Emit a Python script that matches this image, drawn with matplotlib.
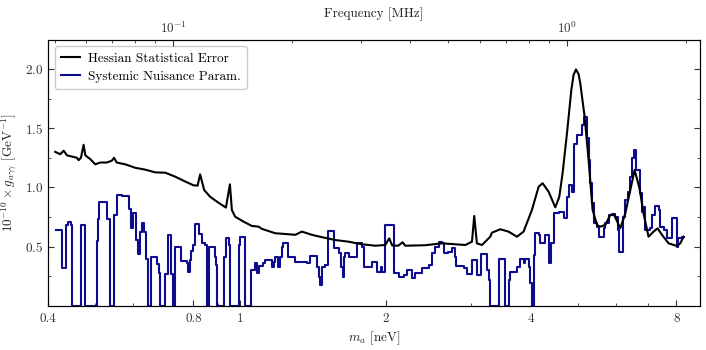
import numpy as np
import matplotlib
matplotlib.use("Agg")
import matplotlib.pyplot as plt
from matplotlib.ticker import FixedLocator, FixedFormatter, LogLocator, NullFormatter, MultipleLocator

# Computer Modern look
plt.rcParams['font.family'] = 'serif'
plt.rcParams['font.serif'] = ['cmr10']
plt.rcParams['mathtext.fontset'] = 'cm'
plt.rcParams['axes.formatter.use_mathtext'] = True
plt.rcParams['font.size'] = 9

# Hessian statistical error (black curve), axion mass in neV
hess_m = [0.414, 0.424, 0.431, 0.438, 0.449, 0.459, 0.463, 0.468, 0.474, 0.478,
          0.489, 0.501, 0.513, 0.529, 0.542, 0.548, 0.555, 0.578, 0.606, 0.636,
          0.667, 0.700, 0.734, 0.769, 0.800, 0.816, 0.826, 0.842, 0.867, 0.902,
          0.934, 0.952, 0.961, 0.976, 1.016, 1.057, 1.091, 1.109, 1.154, 1.182,
          1.239, 1.300, 1.342, 1.407, 1.476, 1.573, 1.676, 1.786, 1.904, 1.996,
          2.034, 2.064, 2.124, 2.168, 2.196, 2.415, 2.616, 2.924, 3.018, 3.051,
          3.090, 3.166, 3.293, 3.320, 3.454, 3.593, 3.740, 3.860, 4.017, 4.147,
          4.227, 4.349, 4.490, 4.576, 4.649, 4.747, 4.846, 4.898, 4.955, 5.017,
          5.058, 5.164, 5.263, 5.364, 5.477, 5.564, 5.698, 5.835, 5.946, 6.120,
          6.268, 6.420, 6.553, 6.710, 6.839, 7.003, 7.172, 7.311, 7.466, 7.705,
          8.019, 8.147, 8.277]
hess_g = [1.30, 1.28, 1.31, 1.27, 1.26, 1.25, 1.23, 1.25, 1.36, 1.27,
          1.24, 1.195, 1.21, 1.21, 1.225, 1.25, 1.21, 1.195, 1.166, 1.15,
          1.127, 1.124, 1.09, 1.05, 1.018, 1.015, 1.11, 0.978, 0.92, 0.87,
          0.83, 1.026, 0.81, 0.753, 0.711, 0.675, 0.669, 0.65, 0.627, 0.613,
          0.607, 0.60, 0.627, 0.60, 0.58, 0.556, 0.542, 0.52, 0.508, 0.514,
          0.57, 0.51, 0.508, 0.537, 0.508, 0.512, 0.528, 0.514, 0.542, 0.759,
          0.528, 0.514, 0.584, 0.618, 0.647, 0.627, 0.584, 0.627, 0.81, 1.006,
          1.035, 0.964, 0.832, 0.92, 1.12, 1.456, 1.82, 1.948, 1.996, 1.956,
          1.878, 1.596, 1.23, 0.81, 0.683, 0.669, 0.683, 0.767, 0.767, 0.655,
          0.78, 0.978, 1.147, 0.99, 0.78, 0.584, 0.627, 0.655, 0.60, 0.528,
          0.506, 0.528, 0.584]

# Systemic nuisance parameter (blue step curve), bin start in neV
nuis_m = [0.415, 0.4286, 0.4356, 0.441, 0.4457, 0.4478, 0.4686, 0.478, 0.5051, 0.5075,
          0.5106, 0.5297, 0.5369, 0.5466, 0.5555, 0.5698, 0.5871, 0.5947, 0.5984, 0.6092,
          0.6142, 0.6188, 0.6259, 0.6329, 0.6379, 0.6440, 0.6541, 0.6733, 0.6797, 0.683,
          0.700, 0.7084, 0.7187, 0.7242, 0.734, 0.7547, 0.7754, 0.7791, 0.7852, 0.7917,
          0.7980, 0.807, 0.8235, 0.8331, 0.846, 0.8533, 0.8598, 0.8846, 0.8918, 0.8950,
          0.9235, 0.9354, 0.9458, 0.953, 0.992, 1.0, 1.024, 1.054, 1.071, 1.083,
          1.091, 1.117, 1.127, 1.163, 1.166, 1.172, 1.182, 1.200, 1.210, 1.223,
          1.229, 1.255, 1.300, 1.374, 1.396, 1.441, 1.453, 1.464, 1.476, 1.500,
          1.516, 1.523, 1.565, 1.598, 1.619, 1.629, 1.637, 1.650, 1.676, 1.744,
          1.786, 1.800, 1.873, 1.919, 1.954, 1.968, 1.996, 2.077, 2.127, 2.179,
          2.214, 2.268, 2.303, 2.378, 2.454, 2.494, 2.533, 2.574, 2.616, 2.636,
          2.692, 2.744, 2.778, 2.801, 2.900, 2.947, 3.018, 3.090, 3.155, 3.242,
          3.267, 3.293, 3.437, 3.525, 3.593, 3.622, 3.740, 3.800, 3.860, 3.892,
          3.954, 3.985, 4.017, 4.052, 4.067, 4.147, 4.180, 4.266, 4.363, 4.405,
          4.454, 4.560, 4.671, 4.747, 4.783, 4.861, 4.899, 4.979, 5.100, 5.139,
          5.223, 5.263, 5.305, 5.349, 5.390, 5.477, 5.519, 5.652, 5.698, 5.789,
          5.884, 5.975, 6.042, 6.071, 6.188, 6.268, 6.338, 6.398, 6.471, 6.521,
          6.597, 6.710, 6.788, 6.862, 6.895, 7.062, 7.119, 7.231, 7.346, 7.406,
          7.523, 7.645, 7.830, 8.019, 8.058, 8.214, 8.306]
nuis_g = [0.64, 0.32, 0.68, 0.705, 0.68, 0, 0.685, 0, 0.55, 0.73,
          0.88, 0.73, 0, 0.77, 0.94, 0.93, 0.82, 0.655, 0.787, 0.556,
          0.44, 0.627, 0.70, 0.627, 0.40, 0, 0.415, 0.35, 0.276, 0,
          0.27, 0.60, 0.27, 0, 0.495, 0.38, 0.36, 0.29, 0.39, 0.46,
          0.515, 0.69, 0.61, 0.53, 0.515, 0, 0.495, 0.415, 0.345, 0,
          0.415, 0.575, 0.515, 0, 0.515, 0.584, 0, 0.30, 0.36, 0.28,
          0.337, 0.365, 0.388, 0.374, 0.33, 0.374, 0.415, 0.33, 0.415, 0.50,
          0.528, 0.415, 0.374, 0.36, 0.42, 0.33, 0.247, 0.177, 0.33, 0.346,
          0.515, 0.635, 0.486, 0.444, 0.33, 0.247, 0.415, 0.444, 0.415, 0.534,
          0.50, 0.33, 0.374, 0.29, 0.33, 0.29, 0.683, 0.275, 0.247, 0.26,
          0.30, 0.233, 0.28, 0.318, 0.346, 0.444, 0.50, 0.542, 0.528, 0.444,
          0.458, 0.486, 0.415, 0.337, 0.318, 0.27, 0.388, 0.26, 0.438, 0.30,
          0.22, 0, 0.394, 0, 0.22, 0.29, 0.33, 0.40, 0.36, 0.394,
          0.33, 0.19, 0, 0.43, 0.618, 0.60, 0.528, 0.60, 0.36, 0.528,
          0.78, 0.795, 0.74, 0.92, 1.02, 0.964, 1.37, 1.44, 1.526, 1.596,
          1.414, 1.23, 1.035, 0.866, 0.70, 0.669, 0.584, 0.655, 0.70, 0.767,
          0.773, 0.753, 0.64, 0.458, 0.753, 0.894, 0.964, 1.09, 1.245, 1.315,
          1.147, 0.95, 0.795, 0.837, 0.64, 0.655, 0.767, 0.843, 0.81, 0.669,
          0.64, 0.571, 0.74, 0.50, 0.571, 0.584, 0.584]

xticks = [0.4, 0.8, 1, 2, 4, 8]
xticklabels = ['0.4', '0.8', '1', '2', '4', '8']

fig = plt.figure(figsize=(7.06, 3.5), dpi=100)
ax = fig.add_axes([0.068, 0.126, 0.9235, 0.76])

ax.plot(hess_m, hess_g, color='black', lw=1.5, label='Hessian Statistical Error', zorder=3)
ax.plot(nuis_m, nuis_g, color='#0c0c8c', lw=1.5, drawstyle='steps-post',
        label='Systemic Nuisance Param.', zorder=2)

ax.set_xscale('log')
ax.set_xlim(0.4, 8.95)
ax.set_ylim(0, 2.245)
ax.xaxis.set_major_locator(FixedLocator(xticks))
ax.xaxis.set_major_formatter(FixedFormatter(xticklabels))
ax.xaxis.set_minor_locator(LogLocator(base=10, subs=np.arange(2, 10)))
ax.xaxis.set_minor_formatter(NullFormatter())
ax.yaxis.set_major_locator(FixedLocator([0.5, 1.0, 1.5, 2.0]))
ax.yaxis.set_minor_locator(MultipleLocator(0.25))
ax.tick_params(which='both', direction='in', right=True, top=False, labelsize=9.5,
               colors='#333333')
ax.tick_params(axis='x', pad=5)
ax.tick_params(axis='y', pad=3.5)
ax.tick_params(which='major', length=4, width=0.8)
ax.tick_params(which='minor', length=2.5, width=0.6)

ax.set_xlabel(r'$m_a$ [neV]', fontsize=9.5, labelpad=3, color='#222222')
ax.set_ylabel(r'$10^{-10}\times g_{a\gamma\gamma}$ [GeV$^{-1}$]', fontsize=9.5,
              color='#222222')
ax.yaxis.set_label_coords(-0.044, 0.5)

# top axis: frequency
ax2 = ax.twiny()
ax2.set_xscale('log')
ax2.set_xlim(0.04805, 2.177)
ax2.tick_params(which='both', direction='in', labelsize=9.5, colors='#333333', pad=2.5)
ax2.tick_params(which='major', length=4, width=0.8)
ax2.tick_params(which='minor', length=2.5, width=0.6)
ax2.set_xlabel('Frequency [MHz]', fontsize=9.5, labelpad=3, color='#222222')

ax.legend(loc='upper left', fontsize=9.5, handlelength=1.5, borderpad=0.45,
          labelspacing=0.45, handletextpad=0.6, framealpha=1, edgecolor='#cccccc')

fig.savefig('out.png', dpi=100)
